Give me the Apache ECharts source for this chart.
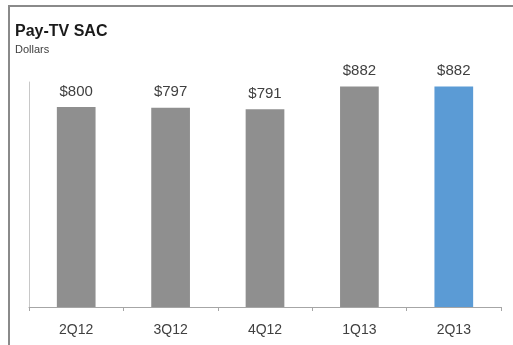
<!DOCTYPE html>
<html>
<head>
<meta charset="utf-8">
<script src="https://cdn.jsdelivr.net/npm/echarts@6/dist/echarts.min.js"></script>
<style>
html,body{margin:0;padding:0;background:#fff;}
#chart{width:513px;height:345px;}
</style>
</head>
<body>
<div id="chart"></div>
<script>
const categories = ['2Q12', '3Q12', '4Q12', '1Q13', '2Q13'];
const sacValues = [800, 797, 791, 882, 882];
const barColors = ['#8f8f8f', '#8f8f8f', '#8f8f8f', '#8f8f8f', '#5b9bd5'];

const chart = echarts.init(document.getElementById('chart'));
chart.setOption({
  animation: false,
  backgroundColor: '#fff',
  graphic: [
    { type: 'rect', shape: { x: 8, y: 5, width: 520, height: 2 }, style: { fill: '#8a8a8a' } },
    { type: 'rect', shape: { x: 8, y: 5, width: 2, height: 345 }, style: { fill: '#8a8a8a' } },
    { type: 'text', left: 15, top: 24, style: { text: 'Pay-TV SAC', font: 'bold 16px "Liberation Sans", Arial, sans-serif', fill: '#1a1a1a' } },
    { type: 'text', left: 15, top: 44, style: { text: 'Dollars', font: '11px "Liberation Sans", Arial, sans-serif', fill: '#404040' } }
  ],
  grid: { left: 29, right: 12, top: 82, bottom: 38 },
  xAxis: {
    type: 'category',
    data: categories,
    axisLine: { lineStyle: { color: '#a6a6a6', width: 1 } },
    axisTick: { show: true, length: 4, lineStyle: { color: '#a6a6a6' } },
    axisLabel: { color: '#404040', fontSize: 14, fontFamily: '"Liberation Sans", Arial, sans-serif', margin: 16 }
  },
  yAxis: {
    type: 'value',
    min: 0,
    max: 900,
    axisLine: { show: true, lineStyle: { color: '#c8c8c8' } },
    axisTick: { show: false },
    axisLabel: { show: false },
    splitLine: { show: false }
  },
  series: [{
    type: 'bar',
    barWidth: '41%',
    data: sacValues.map((v, i) => ({ value: v, itemStyle: { color: barColors[i] } })),
    label: {
      show: true,
      position: 'top',
      distance: 8,
      formatter: p => '$' + p.value,
      color: '#404040',
      fontSize: 15,
      fontFamily: '"Liberation Sans", Arial, sans-serif'
    }
  }]
});
</script>
</body>
</html>
